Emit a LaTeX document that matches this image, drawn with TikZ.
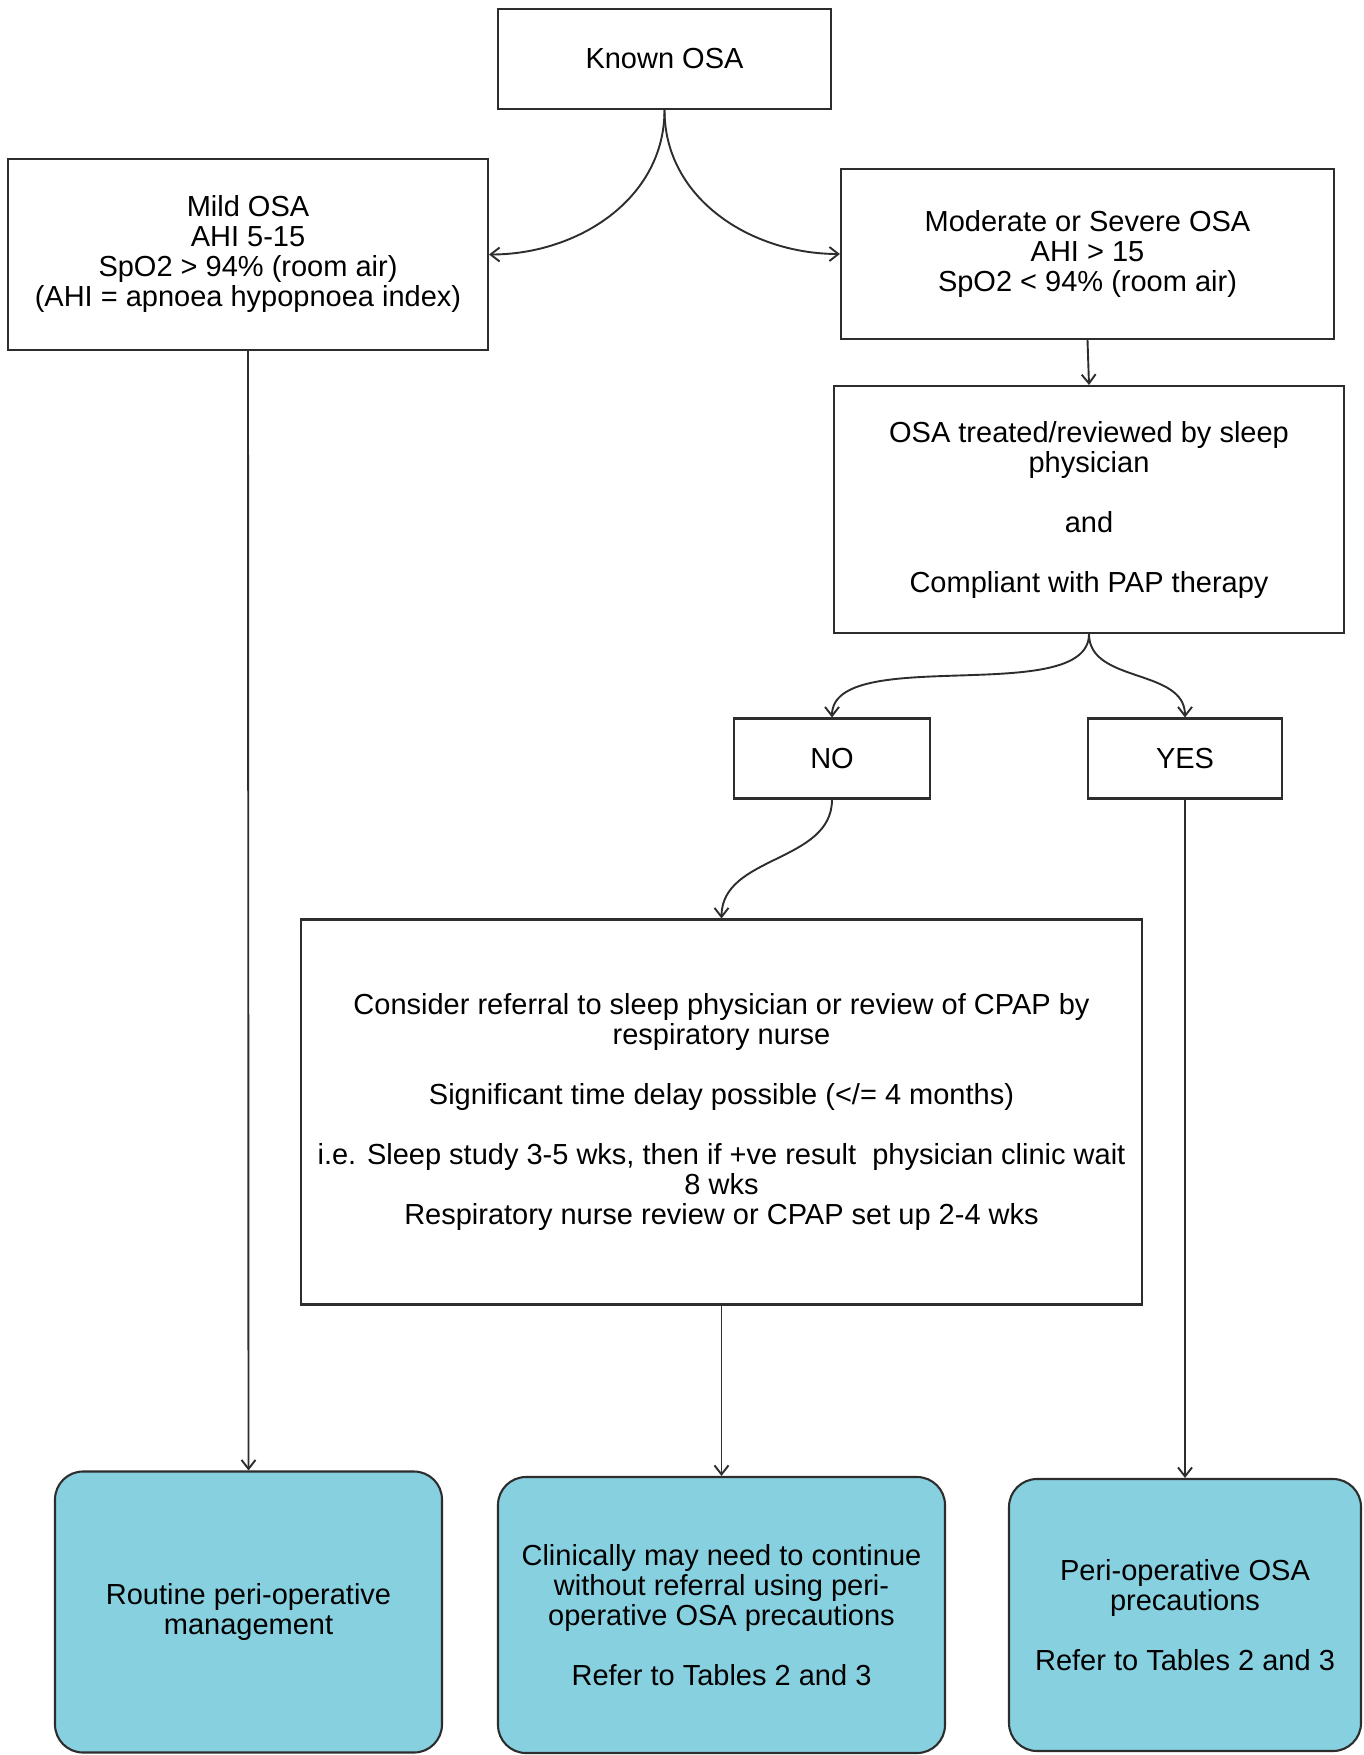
\documentclass[tikz,border=0pt]{standalone}
\usepackage{fontspec}
\setmainfont{Liberation Sans}
\usetikzlibrary{arrows.meta}
\definecolor{boxcyan}{RGB}{135,208,224}
\definecolor{linegray}{RGB}{45,45,45}
\begin{document}
\begin{tikzpicture}[x=1pt,y=-1pt,
  every node/.style={font=\fontsize{29}{30}\selectfont, text=black},
  sbox/.style={draw=linegray, line width=2.1pt, fill=white, align=center, inner sep=0pt},
  rbox/.style={draw=linegray, line width=2.1pt, fill=boxcyan, rounded corners=28pt, align=center, inner sep=0pt},
  arr/.style={draw=linegray, line width=1.9pt, -{Straight Barb[length=9pt,width=14pt]}}]
\useasboundingbox (0,0) rectangle (1363,1755);
\fill[white] (0,0) rectangle (1363,1755);

\node[sbox, minimum width=333pt, minimum height=100pt] (ko) at (664.5,59) {Known OSA};
\node[sbox, minimum width=480pt, minimum height=191pt] (mild) at (248,254.5)
  {Mild OSA\\AHI 5-15\\SpO2 > 94\% (room air)\\(AHI = apnoea hypopnoea index)};
\node[sbox, minimum width=493pt, minimum height=170pt] (mod) at (1087.5,254)
  {Moderate or Severe OSA\\AHI > 15\\SpO2 < 94\% (room air)};
\node[sbox, minimum width=510pt, minimum height=247pt] (treat) at (1089,509.5)
  {OSA treated/reviewed by sleep\\physician\\[30pt]and\\[30pt]Compliant with PAP therapy};
\node[sbox, minimum width=196pt, minimum height=80pt] (no) at (832,758.5) {NO};
\node[sbox, minimum width=194pt, minimum height=80pt] (yes) at (1185,758.5) {YES};
\node[sbox, minimum width=841pt, minimum height=385pt] (big) at (721.5,1112)
  {Consider referral to sleep physician or review of CPAP by\\respiratory nurse\\[30pt]Significant time delay possible (</= 4 months)\\[30pt]i.e. Sleep study 3-5 wks, then if +ve result\ \ physician clinic wait\\8 wks\\Respiratory nurse review or CPAP set up 2-4 wks};
\node[rbox, minimum width=387pt, minimum height=281pt] (r1) at (248.5,1612)
  {Routine peri-operative\\management};
\node[rbox, minimum width=447pt, minimum height=276pt] (r2) at (721.5,1615)
  {Clinically may need to continue\\without referral using peri-\\operative OSA precautions\\[30pt]Refer to Tables 2 and 3};
\node[rbox, minimum width=352pt, minimum height=272pt] (r3) at (1185,1615)
  {Peri-operative OSA\\precautions\\[30pt]Refer to Tables 2 and 3};

\draw[arr] (ko.south) to[out=-90,in=0] (mild.east);
\draw[arr] (ko.south) to[out=-90,in=180] (mod.west);
\draw[arr] (mod.south) -- (treat.north);
\draw[arr] (treat.south) to[out=-90,in=90,looseness=0.7] (no.north);
\draw[arr] (treat.south) to[out=-90,in=90] (yes.north);
\draw[arr] (no.south) to[out=-90,in=90] (big.north);
\draw[arr] (mild.south) -- (r1.north);
\draw[arr] (big.south) -- (r2.north);
\draw[arr] (yes.south) -- (r3.north);
\end{tikzpicture}
\end{document}
